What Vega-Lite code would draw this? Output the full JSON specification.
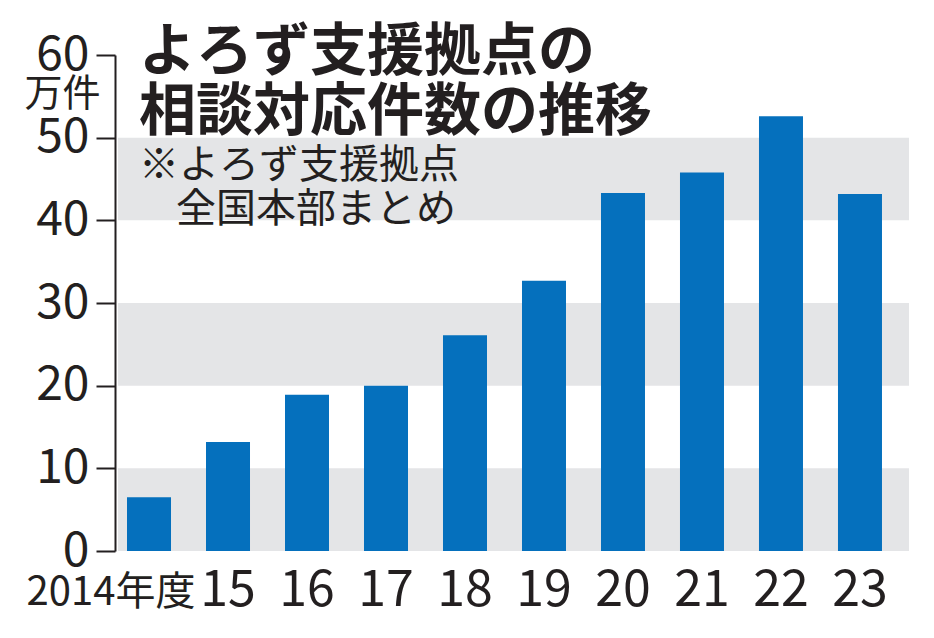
{
  "$schema": "https://vega.github.io/schema/vega-lite/v6.json",
  "width": 791,
  "height": 496,
  "autosize": {"type": "none"},
  "padding": {"left": 118, "top": 55, "right": 25, "bottom": 87},
  "background": "white",
  "datasets": {
    "counts": [
      {"year": "2014年度", "value": 6.5},
      {"year": "15", "value": 13.2},
      {"year": "16", "value": 18.9},
      {"year": "17", "value": 20.0},
      {"year": "18", "value": 26.1},
      {"year": "19", "value": 32.7},
      {"year": "20", "value": 43.3},
      {"year": "21", "value": 45.8},
      {"year": "22", "value": 52.6},
      {"year": "23", "value": 43.2}
    ],
    "bands": [
      {"lo": 0, "hi": 10},
      {"lo": 20, "hi": 30},
      {"lo": 40, "hi": 50}
    ]
  },
  "title": {
    "text": ["よろず支援拠点の", "相談対応件数の推移"],
    "subtitle": ["※よろず支援拠点", "\u2800\u2009全国本部まとめ"],
    "anchor": "start",
    "frame": "group",
    "dx": 21,
    "dy": 204,
    "font": "Noto Sans CJK JP",
    "fontSize": 57,
    "fontWeight": "bold",
    "lineHeight": 60,
    "color": "#231f20",
    "subtitleFont": "Noto Sans CJK JP",
    "subtitleFontSize": 40,
    "subtitleFontWeight": "normal",
    "subtitleLineHeight": 44,
    "subtitleColor": "#231f20",
    "subtitlePadding": 4
  },
  "layer": [
    {
      "data": {"name": "bands"},
      "mark": {"type": "rect", "color": "#e4e5e7"},
      "encoding": {
        "y": {
          "field": "lo",
          "type": "quantitative",
          "scale": {"domain": [0, 60]},
          "axis": {
            "values": [0, 10, 20, 30, 40, 50, 60],
            "offset": 3,
            "grid": false,
            "domainColor": "#231f20",
            "domainWidth": 2,
            "tickColor": "#231f20",
            "tickWidth": 2,
            "tickSize": 19,
            "labelFont": "Noto Sans CJK JP",
            "labelFontSize": 48,
            "labelColor": "#231f20",
            "labelPadding": 7,
            "title": "万件",
            "titleAngle": 0,
            "titleX": -53,
            "titleY": 39,
            "titleAlign": "center",
            "titleBaseline": "middle",
            "titleFont": "Noto Sans CJK JP",
            "titleFontSize": 38,
            "titleFontWeight": "normal",
            "titleColor": "#231f20"
          }
        },
        "y2": {"field": "hi"}
      }
    },
    {
      "data": {"name": "counts"},
      "mark": {"type": "bar", "color": "#0570bd"},
      "encoding": {
        "x": {
          "field": "year",
          "type": "nominal",
          "sort": null,
          "scale": {"type": "band", "paddingInner": 0.443, "paddingOuter": 0.228, "align": 0.25},
          "axis": {
            "domain": false,
            "ticks": false,
            "title": null,
            "labelAngle": 0,
            "labelLimit": 0,
            "labelFont": "Noto Sans CJK JP",
            "labelFontSize": {"condition": {"test": "datum.value === '2014年度'", "value": 40}, "value": 50},
            "labelColor": "#231f20",
            "labelPadding": {"condition": {"test": "datum.value === '2014年度'", "value": 21}, "value": 14},
            "labelOffset": {"condition": {"test": "datum.value === '2014年度'", "value": -38}, "value": 0}
          }
        },
        "y": {
          "field": "value",
          "type": "quantitative",
          "scale": {"domain": [0, 60]},
          "axis": {
            "values": [0, 10, 20, 30, 40, 50, 60],
            "offset": 3,
            "grid": false,
            "domainColor": "#231f20",
            "domainWidth": 2,
            "tickColor": "#231f20",
            "tickWidth": 2,
            "tickSize": 19,
            "labelFont": "Noto Sans CJK JP",
            "labelFontSize": 48,
            "labelColor": "#231f20",
            "labelPadding": 7,
            "title": "万件",
            "titleAngle": 0,
            "titleX": -53,
            "titleY": 39,
            "titleAlign": "center",
            "titleBaseline": "middle",
            "titleFont": "Noto Sans CJK JP",
            "titleFontSize": 38,
            "titleFontWeight": "normal",
            "titleColor": "#231f20"
          }
        }
      }
    }
  ],
  "config": {"view": {"stroke": null}}
}
